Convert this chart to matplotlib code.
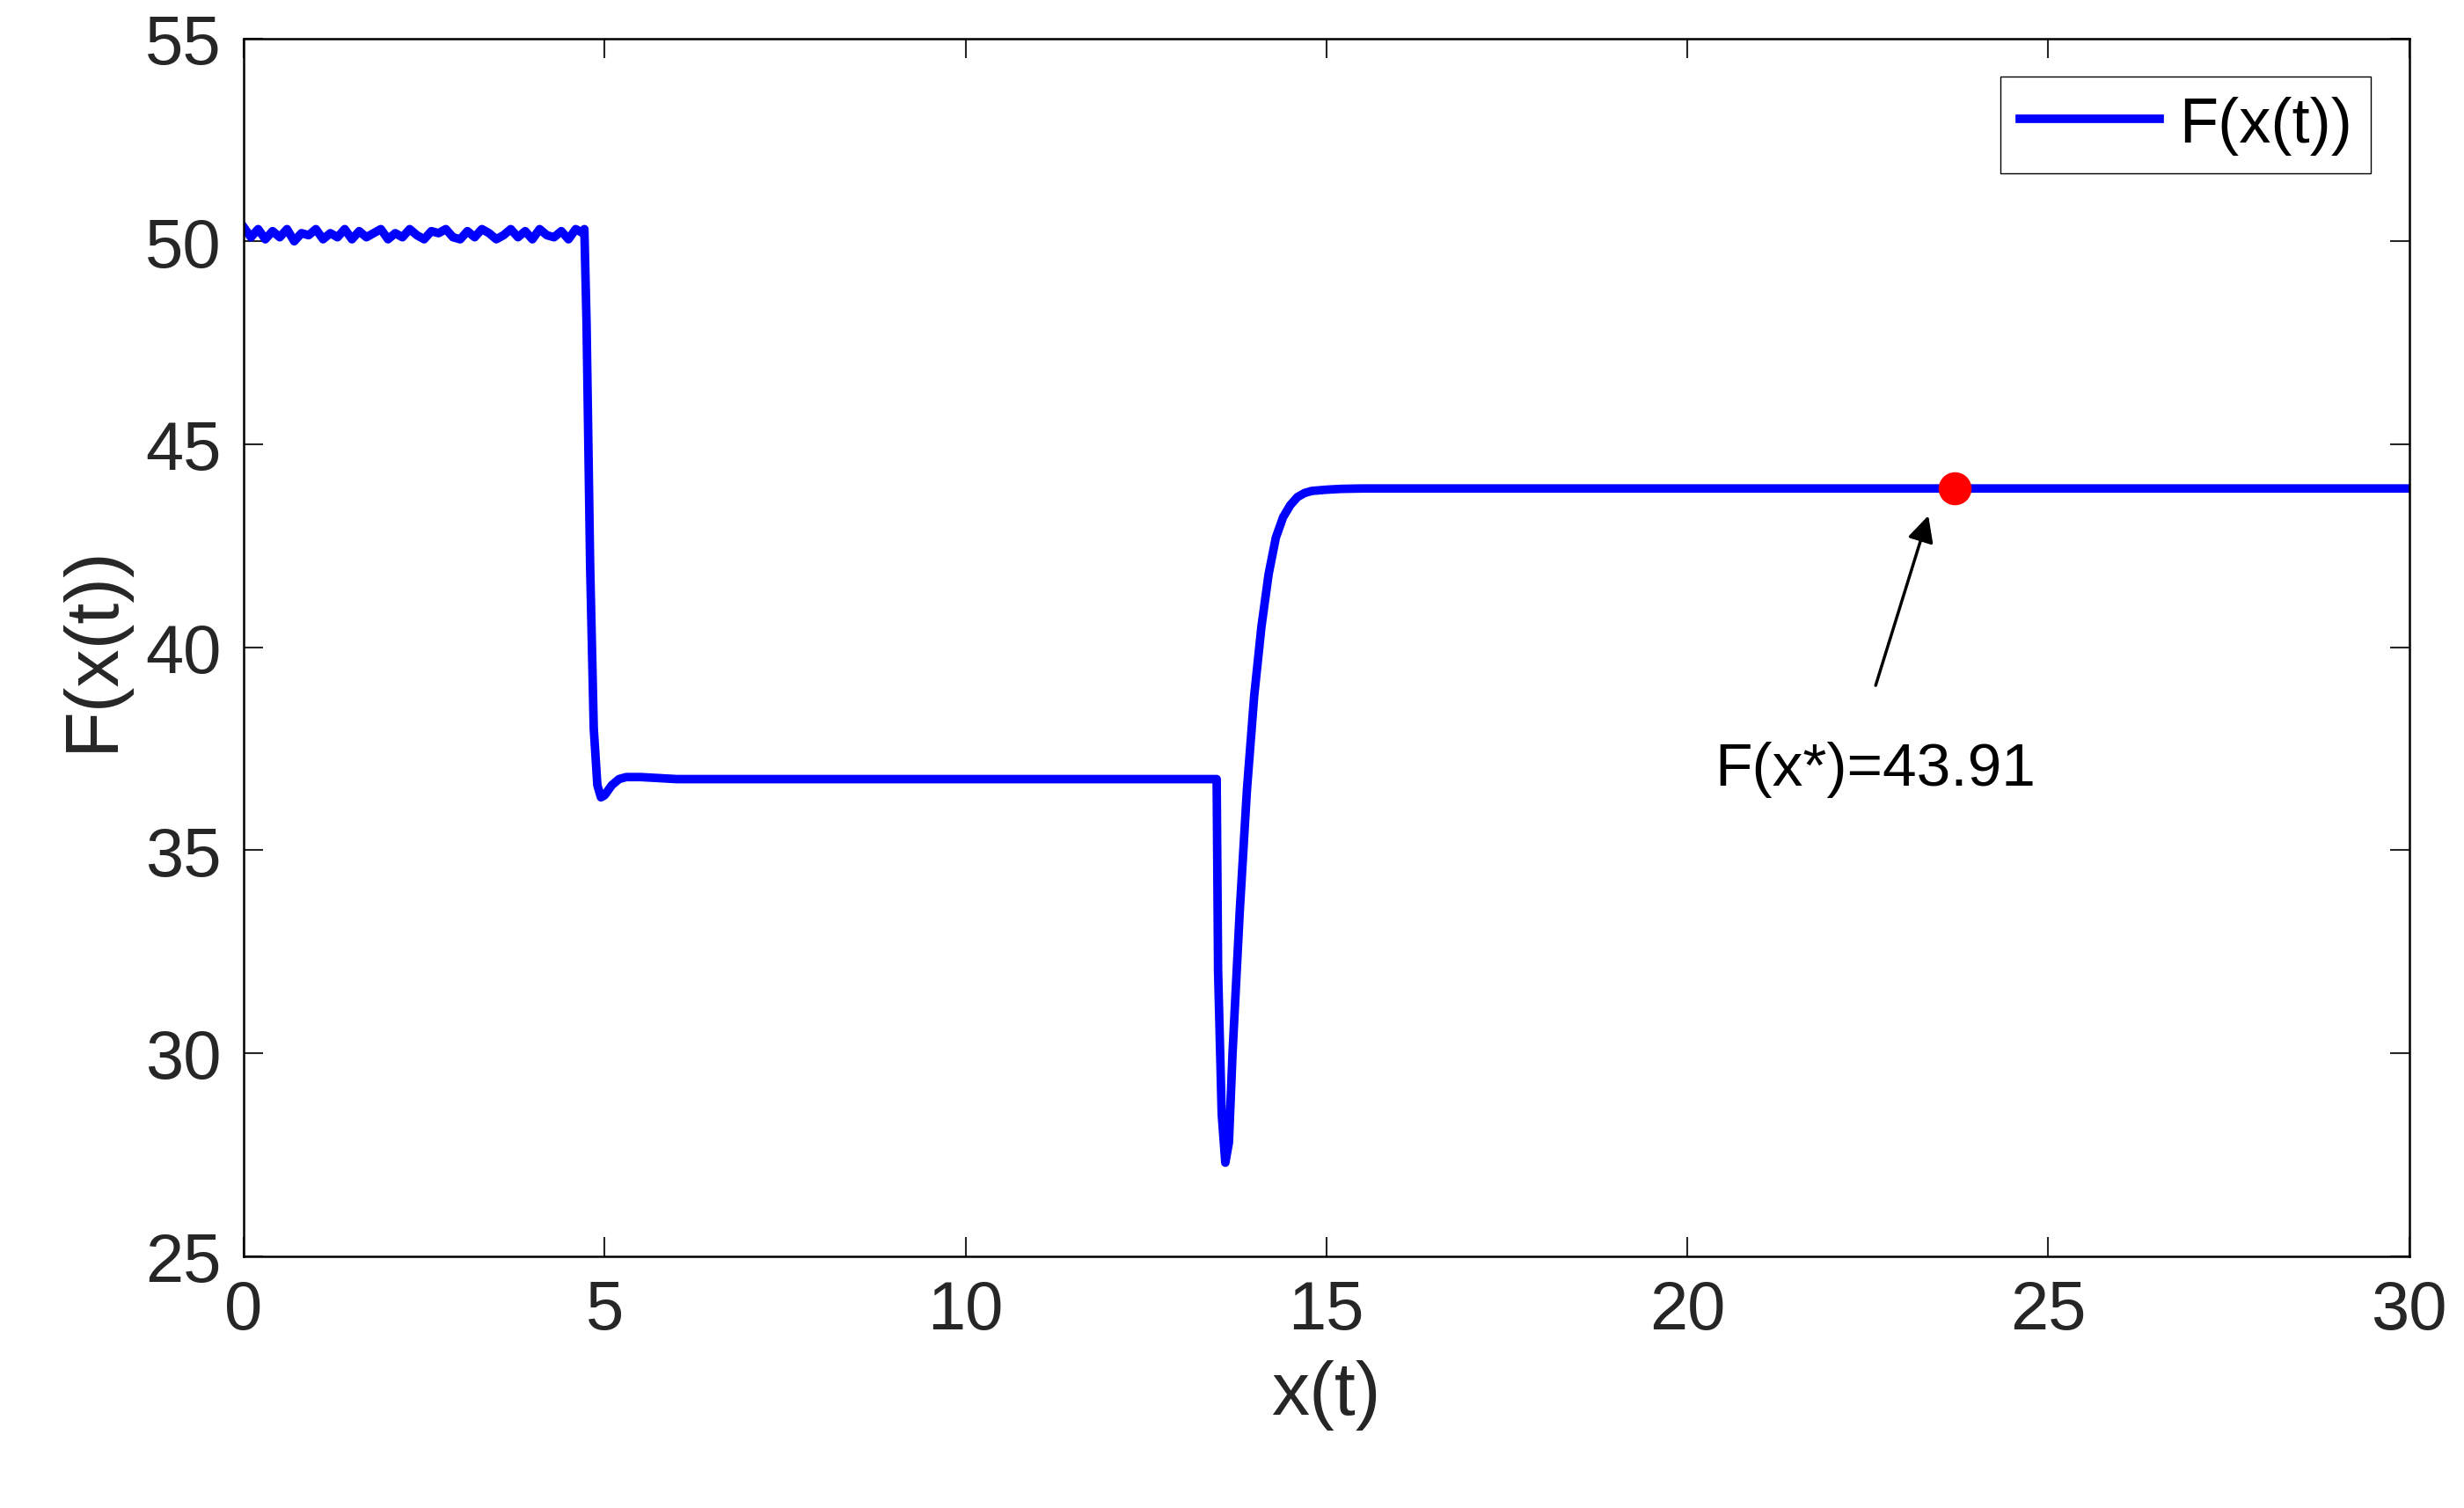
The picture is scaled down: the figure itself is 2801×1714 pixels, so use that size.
import matplotlib
matplotlib.use("Agg")
import matplotlib.pyplot as plt

wig_x = [i*0.1 for i in range(48)]
wig_y = [50.35,50.1,50.3,50.05,50.25,50.1,50.3,50.0,50.2,50.15,50.3,50.05,50.2,50.1,50.3,50.05,50.25,50.1,50.2,50.3,50.05,50.2,50.1,50.3,50.15,50.05,50.25,50.2,50.3,50.1,50.05,50.25,50.1,50.3,50.2,50.05,50.15,50.3,50.1,50.25,50.05,50.3,50.15,50.1,50.25,50.05,50.3,50.2]
main_x = [4.72,4.75,4.8,4.85,4.9,4.95,5.0,5.1,5.2,5.3,5.5,6.0,8.0,10.0,12.0,13.48,13.5,13.55,13.6,13.65,13.7,13.8,13.9,14.0,14.1,14.2,14.3,14.4,14.5,14.6,14.7,14.8,15.0,15.2,15.5,16.0,20.0,25.0,30.0]
main_y = [50.3,48.0,42.0,38.0,36.6,36.3,36.35,36.6,36.75,36.8,36.8,36.75,36.75,36.75,36.75,36.75,32.0,28.5,27.3,27.8,30.0,33.5,36.5,38.8,40.5,41.8,42.7,43.2,43.5,43.7,43.8,43.85,43.88,43.9,43.91,43.91,43.91,43.91,43.91]
xs = wig_x + main_x
ys = wig_y + main_y
opt_x, opt_y = 23.7, 43.91

plt.rcParams['font.family'] = ['Liberation Sans', 'DejaVu Sans']
fig = plt.figure(figsize=(28.01, 17.15), dpi=100)
ax = fig.add_axes([0.0989, 0.167, 0.8788, 0.807])
ax.plot(xs, ys, color='blue', lw=7, label='F(x(t))')
ax.plot([opt_x], [opt_y], 'o', color='red', ms=26)
ax.annotate('', xy=(23.35, 43.3), xytext=(22.6, 39.0),
            arrowprops=dict(arrowstyle='-|>', color='black', lw=2.5, mutation_scale=45))
ax.text(22.6, 37.0, 'F(x*)=43.91', fontsize=50, ha='center', va='center', color='black')
ax.set_xlim(0, 30); ax.set_ylim(25, 55)
ax.set_xticks(range(0, 31, 5)); ax.set_yticks(range(25, 56, 5))
ax.tick_params(labelsize=56, direction='in', length=16, width=1.5, top=True, right=True, colors='#262626', pad=18)
for s in ax.spines.values(): s.set_linewidth(1.8)
ax.set_xlabel('x(t)', fontsize=62, color='#262626', labelpad=14)
ax.set_ylabel('F(x(t))', fontsize=62, color='#262626', labelpad=14)
ax.legend(loc='upper right', fontsize=52, fancybox=False, edgecolor='black', framealpha=1,
          handlelength=2.2, borderaxespad=0.6, handletextpad=0.3, borderpad=0.3)
fig.savefig('out.png', dpi=100)
